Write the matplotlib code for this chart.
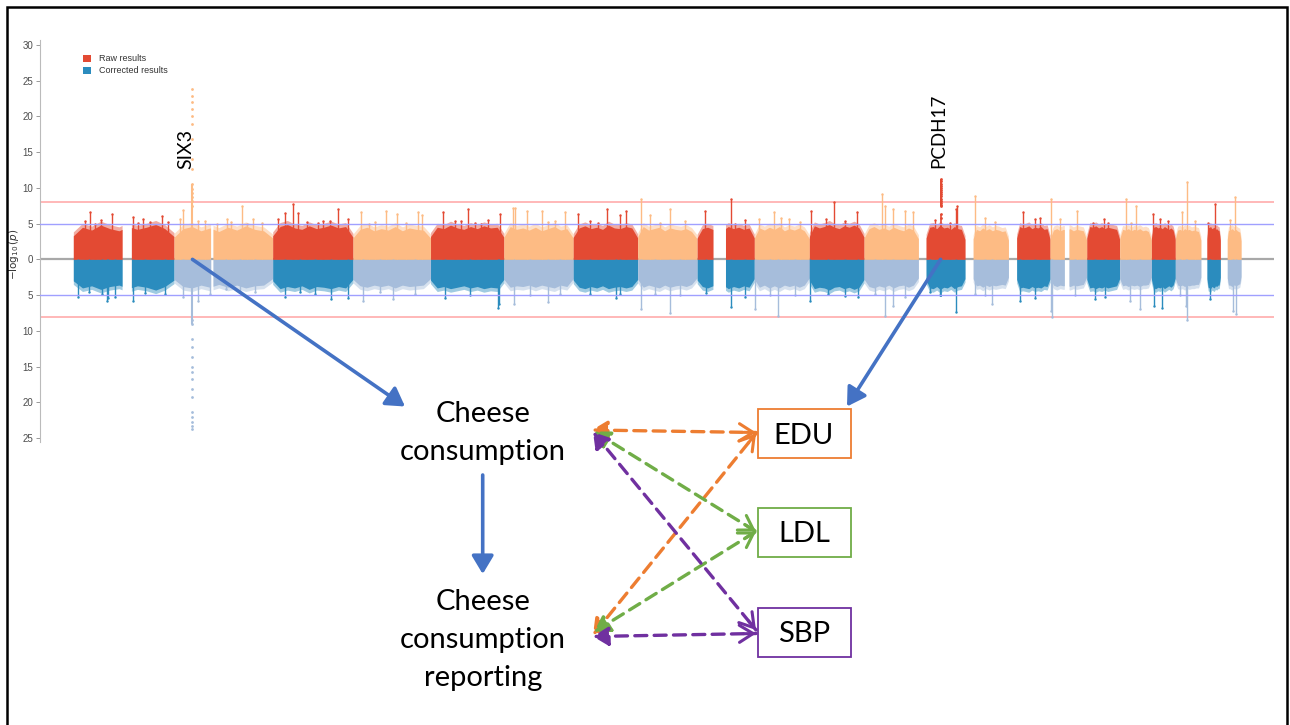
import numpy as np
import matplotlib
matplotlib.use("Agg")
import matplotlib.pyplot as plt
from matplotlib.patches import FancyArrowPatch, Rectangle

# ---------------- data ----------------
CHR_LEN = [249.25, 243.2, 198.0, 191.15, 180.9, 171.1, 159.1, 146.4, 141.2, 135.5, 135.0,
           133.9, 115.2, 107.3, 102.5, 90.35, 81.2, 78.1, 59.1, 63.0, 48.1, 51.3]
# genomic ranges (Mb) covered by SNPs on each chromosome
CHR_SEGS = [[(0.8, 121), (144, 249)], [(0.1, 90), (96, 243)], [(0.1, 198)], [(0.1, 191)],
            [(0.1, 181)], [(0.2, 171)], [(0.1, 159)], [(0.2, 146)], [(0.2, 39), (70, 141)],
            [(0.1, 135.5)], [(0.2, 135)], [(0.2, 134)], [(19.1, 115)], [(20, 107)],
            [(20, 102.5)], [(0.1, 35), (46.5, 90)], [(0.1, 81)], [(0.1, 78)], [(0.2, 59)],
            [(0.1, 63)], [(15, 48)], [(17, 51)]]
# top of the dense cloud of points, sampled across each chromosome
RAW_ENV = [
    [3.3, 4.5, 4.1, 4.8, 4.3, 4.0, 4.6, 4.2, 4.5, 4.9, 4.3, 3.2],
    [3.1, 4.3, 4.6, 4.0, 4.4, 3.9, 4.5, 4.1, 4.7, 4.2, 4.0, 3.0],
    [3.3, 4.6, 4.9, 4.4, 4.2, 4.7, 4.3, 4.5, 4.8, 4.4, 4.6, 3.1],
    [3.0, 4.2, 4.5, 4.0, 4.3, 4.1, 4.6, 4.0, 4.4, 4.2, 4.1, 3.0],
    [3.2, 4.5, 4.3, 4.8, 4.4, 4.2, 4.6, 4.3, 4.7, 4.4, 4.5, 3.1],
    [3.1, 4.6, 4.2, 4.4, 4.1, 4.5, 4.0, 4.3, 4.6, 4.1, 4.3, 3.0],
    [3.1, 4.4, 4.7, 4.3, 4.5, 4.2, 4.8, 4.4, 4.3, 4.6, 4.4, 3.0],
    [3.2, 4.6, 4.1, 4.3, 4.5, 4.0, 4.4, 4.2, 4.1, 4.3, 3.9, 2.9],
    [3.0, 4.3, 4.5, 4.2, 4.4, 4.1, 4.6, 4.3, 4.5, 4.2, 4.4, 3.0],
    [3.0, 4.4, 4.1, 4.5, 4.2, 4.6, 4.0, 4.3, 4.1, 4.4, 4.0, 2.9],
    [3.2, 4.7, 4.4, 4.6, 4.9, 4.5, 4.3, 4.7, 4.5, 4.8, 4.4, 3.1],
    [3.0, 4.3, 4.6, 4.2, 4.4, 4.1, 4.5, 4.2, 4.0, 4.4, 4.1, 2.9],
    [3.0, 4.5, 4.6, 4.3, 4.8, 4.4, 4.5, 4.2, 4.6, 4.3, 4.2, 2.8],
    [2.9, 4.2, 4.0, 4.4, 4.1, 4.3, 4.0, 4.2, 4.1, 3.9, 4.0, 2.7],
    [3.0, 4.6, 4.4, 4.5, 4.7, 4.3, 4.5, 4.4, 4.6, 4.2, 4.3, 2.8],
    [2.9, 4.1, 4.3, 4.0, 4.2, 4.1, 4.3, 4.0, 4.2, 4.1, 4.0, 2.7],
    [3.0, 4.6, 4.5, 4.7, 4.4, 4.6, 4.3, 4.5, 4.4, 4.3, 4.2, 2.8],
    [2.9, 4.2, 4.1, 4.3, 4.0, 4.2, 4.1, 4.3, 4.0, 4.1, 3.9, 2.7],
    [3.0, 4.5, 4.6, 4.4, 4.5, 4.3, 4.6, 4.4, 4.2, 4.4, 4.1, 2.8],
    [2.9, 4.1, 4.2, 4.0, 4.3, 4.1, 4.2, 4.0, 4.1, 4.0, 3.9, 2.7],
    [2.9, 4.4, 4.5, 4.6, 4.3, 4.4, 4.5, 4.2, 4.3, 4.1, 4.0, 2.7],
    [2.8, 4.1, 4.0, 4.2, 4.3, 4.1, 4.0, 4.2, 4.0, 3.9, 3.8, 2.6]]
CORR_ENV = [
    [3.0, 4.0, 3.7, 4.2, 3.8, 3.6, 4.1, 3.7, 3.9, 4.3, 3.8, 2.9],
    [2.8, 3.8, 4.0, 3.6, 3.9, 3.5, 3.9, 3.6, 4.0, 3.7, 3.6, 2.7],
    [3.0, 4.1, 3.8, 4.0, 3.7, 4.2, 3.8, 3.9, 4.1, 3.8, 4.0, 2.8],
    [2.8, 3.7, 3.9, 3.6, 3.8, 3.6, 4.0, 3.6, 3.8, 3.7, 3.6, 2.7],
    [2.9, 4.0, 3.8, 4.1, 3.9, 3.7, 4.0, 3.8, 4.1, 3.9, 4.0, 2.8],
    [2.8, 3.9, 3.7, 3.8, 3.6, 3.9, 3.6, 3.8, 4.0, 3.6, 3.8, 2.7],
    [2.9, 3.9, 4.1, 3.8, 4.0, 3.7, 4.1, 3.9, 3.8, 4.0, 3.8, 2.8],
    [2.8, 3.9, 3.6, 3.8, 4.0, 3.6, 3.9, 3.7, 3.6, 3.8, 3.5, 2.6],
    [2.9, 3.8, 4.0, 3.7, 3.9, 3.6, 4.1, 3.8, 4.0, 3.7, 3.9, 2.7],
    [2.8, 3.9, 3.6, 4.0, 3.7, 4.0, 3.6, 3.8, 3.6, 3.9, 3.6, 2.6],
    [2.9, 4.1, 3.9, 4.0, 4.3, 3.9, 3.8, 4.1, 3.9, 4.2, 3.9, 2.8],
    [2.8, 3.8, 4.0, 3.7, 3.9, 3.6, 4.0, 3.7, 3.6, 3.9, 3.6, 2.6],
    [2.9, 4.0, 4.1, 3.8, 4.2, 3.9, 4.0, 3.7, 4.1, 3.8, 3.7, 2.7],
    [2.7, 3.7, 3.6, 3.9, 3.6, 3.8, 3.6, 3.7, 3.6, 3.5, 3.6, 2.5],
    [2.8, 4.0, 3.9, 4.0, 4.1, 3.8, 4.0, 3.9, 4.0, 3.7, 3.8, 2.7],
    [2.7, 3.6, 3.8, 3.6, 3.7, 3.6, 3.8, 3.6, 3.7, 3.6, 3.5, 2.5],
    [2.8, 4.0, 3.9, 4.1, 3.9, 4.0, 3.8, 4.0, 3.9, 3.8, 3.7, 2.7],
    [2.7, 3.7, 3.6, 3.8, 3.6, 3.7, 3.6, 3.8, 3.6, 3.6, 3.5, 2.5],
    [2.8, 4.0, 4.1, 3.9, 4.0, 3.8, 4.1, 3.9, 3.7, 3.9, 3.6, 2.6],
    [2.7, 3.6, 3.7, 3.6, 3.8, 3.6, 3.7, 3.6, 3.6, 3.5, 3.5, 2.5],
    [2.7, 3.9, 4.0, 4.1, 3.8, 3.9, 4.0, 3.7, 3.8, 3.6, 3.6, 2.5],
    [2.6, 3.6, 3.6, 3.7, 3.8, 3.6, 3.6, 3.7, 3.6, 3.5, 3.4, 2.4]]
# isolated peaks: (chromosome, position Mb, -log10 p)
RAW_PEAKS = [
    (1, 29.6, 5.4), (1, 42, 6.6), (1, 69, 5.5), (1, 95.4, 6.4), (1, 148, 5.9), (1, 172.6, 5.6),
    (1, 190, 5.2), (1, 218.7, 6.0), (1, 55, 5.0), (1, 160, 5.1), (1, 235, 5.2),
    (2, 14.6, 5.6), (2, 22.9, 6.9), (2, 76, 5.3), (2, 104.8, 5.0), (2, 129.5, 5.6), (2, 166.5, 7.5),
    (2, 194.6, 5.6), (2, 216, 5.1), (2, 60, 5.4), (2, 140, 5.2), (2, 180, 5.0),
    (3, 13, 5.6), (3, 30.3, 6.5), (3, 50.1, 7.7), (3, 62.4, 6.5), (3, 111, 5.1), (3, 141, 5.3),
    (3, 161, 7.0), (3, 185, 5.6), (3, 85, 5.2), (3, 125, 5.4),
    (4, 19.7, 6.6), (4, 54, 5.2), (4, 81.4, 6.8), (4, 107.8, 6.4), (4, 159.6, 6.6), (4, 170, 6.2),
    (4, 130, 5.1), (4, 40, 5.0),
    (5, 30.8, 6.6), (5, 60, 5.3), (5, 92.5, 7.0), (5, 110, 5.1), (5, 141, 5.5), (5, 171.4, 6.3),
    (5, 125, 5.0), (5, 75, 5.4),
    (6, 21.5, 7.2), (6, 27.6, 7.2), (6, 57, 6.8), (6, 94, 6.8), (6, 126, 5.4), (6, 151, 6.6),
    (6, 110, 5.2),
    (7, 11, 6.3), (7, 41, 5.3), (7, 83.4, 7.0), (7, 115, 6.2), (7, 130, 6.8), (7, 60, 5.1),
    (8, 7, 8.4), (8, 30, 6.2), (8, 79.6, 7.0), (8, 116, 5.3), (8, 55, 5.1),
    (9, 19.5, 6.8), (9, 83.6, 8.4), (9, 93, 4.9), (9, 118, 5.5),
    (10, 10.4, 5.6), (10, 49.3, 6.6), (10, 66, 5.8), (10, 85, 5.6), (10, 112, 5.2),
    (11, 3.5, 6.8), (11, 41, 5.6), (11, 60, 8.0), (11, 88, 5.3), (11, 116.5, 6.6),
    (12, 44, 9.1), (12, 51, 7.5), (12, 71, 7.0), (12, 101, 6.8), (12, 120, 6.6),
    (13, 41, 5.5), (13, 78, 5.1), (13, 92.7, 7.0), (13, 95, 7.4),
    (14, 24.4, 8.8), (14, 49, 5.8), (14, 74, 5.2),
    (15, 35.5, 6.6), (15, 65, 5.6), (15, 77, 5.8),
    (16, 2.2, 8.4), (16, 24, 5.6), (16, 65.6, 6.8),
    (17, 15, 5.1), (17, 42, 5.6), (17, 52, 5.1),
    (18, 15.5, 8.4), (18, 28, 5.1), (18, 40, 7.5),
    (19, 4, 6.3), (19, 21, 5.6), (19, 41, 5.3),
    (20, 16.5, 6.6), (20, 29, 10.8), (20, 48, 5.3),
    (21, 17.5, 5.1), (21, 34.8, 7.7),
    (22, 23.7, 5.5), (22, 36, 8.7)]
CORR_PEAKS = [
    (1, 12, 5.2), (1, 70.8, 4.9), (1, 83, 5.8), (1, 87, 5.4), (1, 103.6, 5.2), (1, 148, 5.8),
    (1, 177.6, 4.7), (1, 227, 4.9), (1, 40, 4.6),
    (2, 22, 5.2), (2, 59, 5.8), (2, 88.5, 4.9), (2, 128, 4.2), (2, 162, 4.6), (2, 200, 4.5),
    (3, 30, 5.2), (3, 67, 4.5), (3, 104, 4.9), (3, 145, 5.6), (3, 185, 5.4),
    (4, 24.7, 5.8), (4, 66.6, 4.6), (4, 98.6, 5.6), (4, 153, 4.8),
    (5, 35.8, 5.4), (5, 97.4, 5.0), (5, 165.7, 6.8), (5, 169, 6.2),
    (6, 26, 6.3), (6, 64.6, 5.0), (6, 109, 5.9), (6, 139, 4.8),
    (7, 41.4, 4.8), (7, 104.6, 5.4), (7, 115.4, 4.9),
    (8, 8, 7.0), (8, 42.7, 4.8), (8, 79.6, 7.5), (8, 104, 5.0),
    (9, 22, 4.7), (9, 83.6, 6.7), (9, 118, 5.2),
    (10, 0.5, 7.0), (10, 38.5, 5.0), (10, 58, 7.9), (10, 100, 5.0),
    (11, 1.7, 5.8), (11, 46, 4.9), (11, 88, 5.1), (11, 120, 5.3),
    (12, 26.6, 4.8), (12, 51.3, 7.9), (12, 71, 6.5), (12, 101, 5.2),
    (13, 28.6, 4.6), (13, 53, 5.0), (13, 92.7, 7.4),
    (14, 24.4, 4.8), (14, 49, 5.0), (14, 66.3, 6.3),
    (15, 28, 5.8), (15, 65, 5.4),
    (16, 2.2, 7.2), (16, 3.5, 8.0), (16, 61, 5.0),
    (17, 20, 5.6), (17, 45, 5.2),
    (18, 25.6, 5.8), (18, 50.3, 7.0),
    (19, 6.4, 6.5), (19, 26, 6.8),
    (20, 11.6, 5.0), (20, 26.4, 6.5), (20, 29, 8.5),
    (21, 22.4, 5.6),
    (22, 31.6, 7.2), (22, 39, 7.6)]
# top hits
SIX3_CHR, SIX3_POS = 2, 45.3
SIX3_RAW = [23.8, 22.8, 22.0, 21.0, 20.0, 18.9, 16.8, 14.0, 12.6, 10.5, 9.9, 9.3, 8.7, 8.1, 7.5]
SIX3_CORR = [23.8, 23.3, 22.8, 22.1, 21.4, 19.3, 18.2, 16.8, 15.8, 15.1, 13.7, 12.2, 11.2, 9.1, 8.5]
PCDH17_CHR, PCDH17_POS = 13, 55.0
PCDH17_RAW = [11.2, 10.9, 10.6, 10.3, 10.0, 9.7, 9.4, 9.1, 8.8, 8.5, 8.2, 7.9, 7.6, 7.4, 6.3, 5.8]
PCDH17_CORR = [5.2, 4.8]

YTICKS = [-25, -20, -15, -10, -5, 0, 5, 10, 15, 20, 25, 30]
LEGEND_LABELS = ["Raw results", "Corrected results"]

RAW_COLS = ["#E34A33", "#FDBB84"]
CORR_COLS = ["#2B8CBE", "#A6BDDB"]

# ---------------- figure ----------------
W, H = 1290, 725
fig = plt.figure(figsize=(12.9, 7.25), dpi=100)
fig.patch.set_facecolor("white")


def fx(px):
    return px / W


def fy(py):
    return 1 - py / H


ax = fig.add_axes([fx(40), fy(442.3), (1274 - 40) / W, (442.3 - 40) / H])
ax.set_ylim(-25.6, 30.7)
ax.set_xlim(-81.4, 2961.8)
offs = np.concatenate([[0], np.cumsum(CHR_LEN)[:-1]])

for i in range(22):
    segs = CHR_SEGS[i]
    a0, b0 = segs[0][0], segs[-1][1]
    renv, cenv = RAW_ENV[i], CORR_ENV[i]
    samp = np.linspace(a0, b0, len(renv))
    for (a, b) in segs:
        xs = np.linspace(a, b, 120)
        yr = np.interp(xs, samp, renv)
        yc = np.interp(xs, samp, cenv)
        # sparse fringe of points above the dense cloud
        ax.fill_between(offs[i] + xs, 0, yr + 0.55, color=RAW_COLS[i % 2], lw=0, alpha=0.45,
                        zorder=2)
        ax.fill_between(offs[i] + xs, 0, -(yc + 0.5), color=CORR_COLS[i % 2], lw=0, alpha=0.45,
                        zorder=2)
        ax.fill_between(offs[i] + xs, 0, yr, color=RAW_COLS[i % 2], lw=0, zorder=2)
        ax.fill_between(offs[i] + xs, 0, -yc, color=CORR_COLS[i % 2], lw=0, zorder=2)

for (c, p, v) in RAW_PEAKS:
    x = offs[c - 1] + p
    col = RAW_COLS[(c - 1) % 2]
    ax.vlines(x, 0, v, color=col, lw=1.0, zorder=3)
    ax.scatter([x], [v], s=3, color=col, lw=0, zorder=3)
for (c, p, v) in CORR_PEAKS:
    x = offs[c - 1] + p
    col = CORR_COLS[(c - 1) % 2]
    ax.vlines(x, 0, -v, color=col, lw=1.0, zorder=3)
    ax.scatter([x], [-v], s=3, color=col, lw=0, zorder=3)

# SIX3 column
xs6 = offs[SIX3_CHR - 1] + SIX3_POS
ax.vlines(xs6, 0, 10.5, color=RAW_COLS[1], lw=1.5, zorder=3)
ax.scatter([xs6] * len(SIX3_RAW), SIX3_RAW, s=4, color=RAW_COLS[1], lw=0, zorder=3)
ax.vlines(xs6, 0, -9.1, color=CORR_COLS[1], lw=1.5, zorder=3)
ax.scatter([xs6] * len(SIX3_CORR), [-v for v in SIX3_CORR], s=4, color=CORR_COLS[1], lw=0,
           zorder=3)
# PCDH17 column
xp = offs[PCDH17_CHR - 1] + PCDH17_POS
ax.vlines(xp, 7.4, max(PCDH17_RAW), color=RAW_COLS[0], lw=1.4, zorder=3)
ax.vlines(xp, 0, 6.3, color=RAW_COLS[0], lw=1.2, zorder=3)
ax.scatter([xp] * len(PCDH17_RAW), PCDH17_RAW, s=4, color=RAW_COLS[0], lw=0, zorder=3)
ax.vlines(xp, 0, -max(PCDH17_CORR), color=CORR_COLS[0], lw=1.2, zorder=3)

# threshold lines
for v in (8, -8):
    ax.axhline(v, color="#FFB8B8", lw=1.4, zorder=1)
for v in (5, -5):
    ax.axhline(v, color="#A0A0FF", lw=1.0, zorder=4)
ax.axhline(0, color="#A8A8A8", lw=1.6, zorder=1)

ax.set_yticks(YTICKS)
ax.set_yticklabels([str(abs(t)) for t in YTICKS], fontsize=7, color="#4d4d4d",
                   fontfamily="Liberation Sans")
ax.tick_params(axis="y", length=3, width=0.7, color="#999999", pad=2)
ax.set_xticks([])
for s in ("top", "right", "bottom"):
    ax.spines[s].set_visible(False)
ax.spines["left"].set_color("#BBBBBB")
ax.spines["left"].set_linewidth(0.8)
ax.patch.set_alpha(0)

# ---------------- overlay in pixel coordinates ----------------
ov = fig.add_axes([0, 0, 1, 1], zorder=5)
ov.set_xlim(0, W)
ov.set_ylim(H, 0)
ov.axis("off")
ov.patch.set_alpha(0)

# frame
ov.plot([7, 7, 1287, 1287], [730, 7, 7, 730], color="black", lw=1.8,
        solid_joinstyle="miter", zorder=10)

# y label
fig.text(fx(14), fy(254), r"$-\log_{10}(p)$", rotation=90, fontsize=7.5, color="#333333",
         ha="center", va="center")

# legend
for k, (lab, col) in enumerate(zip(LEGEND_LABELS, [RAW_COLS[0], CORR_COLS[0]])):
    yy = 58 + 12 * k
    ov.add_patch(Rectangle((83, yy - 3.5), 7.5, 7, color=col, lw=0))
    ov.text(99, yy, lab, fontsize=6.5, color="#333333", va="center",
            fontfamily="Liberation Sans")

# gene labels
DIA = "Lato"
ov.text(186, 149, "SIX3", rotation=90, fontsize=14, ha="center", va="center", fontfamily=DIA)
ov.text(938.5, 131, "PCDH17", rotation=90, fontsize=13.5, ha="center", va="center",
        fontfamily=DIA)


def to_px(x, y):
    dx, dy = ax.transData.transform((x, y))
    return dx, H - dy


BLUE = "#4472C4"
a1 = to_px(xs6, 0)
a2 = to_px(xp, 0)
for (sx, sy), (tx, ty) in [(a1, (405, 406.5)), (a2, (847, 406.5)), ((482.7, 475), (482.7, 574))]:
    ov.add_patch(FancyArrowPatch((sx, sy), (tx, ty),
                                 arrowstyle="-|>,head_length=0.5,head_width=0.3",
                                 mutation_scale=22, color=BLUE, lw=2.6, shrinkA=0, shrinkB=0,
                                 zorder=6))

# texts of diagram
TXT = 21
ov.text(482.7, 422, "Cheese", fontsize=TXT, ha="center", va="baseline", fontfamily=DIA)
ov.text(482.7, 460, "consumption", fontsize=TXT, ha="center", va="baseline", fontfamily=DIA)
ov.text(482.7, 610, "Cheese", fontsize=TXT, ha="center", va="baseline", fontfamily=DIA)
ov.text(482.7, 648, "consumption", fontsize=TXT, ha="center", va="baseline", fontfamily=DIA)
ov.text(482.7, 686, "reporting", fontsize=TXT, ha="center", va="baseline", fontfamily=DIA)

BOXES = [("EDU", 409, "#ED7D31"), ("LDL", 508, "#70AD47"), ("SBP", 608, "#7030A0")]
for lab, top, col in BOXES:
    ov.add_patch(Rectangle((757.5, top), 93, 48.5, fill=False, ec=col, lw=1.3, zorder=6))
    ov.text(804, top + 34.5, lab, fontsize=TXT, ha="center", va="baseline", fontfamily=DIA)

ORANGE, GREEN, PURPLE = "#ED7D31", "#70AD47", "#7030A0"
LINKS = [((592, 430), (756, 432.5), ORANGE), ((593, 635), (756, 433.5), ORANGE),
         ((594, 431.5), (756, 531.5), GREEN), ((594, 632), (756, 531.5), GREEN),
         ((593, 432), (756, 630), PURPLE), ((593, 636.5), (756, 633.5), PURPLE)]
for (p, q, col) in LINKS:
    ov.add_patch(FancyArrowPatch(p, q, arrowstyle="<|-,head_length=0.42,head_width=0.26",
                                 mutation_scale=22, color=col, lw=2.4,
                                 linestyle=(0, (3.6, 2.2)), shrinkA=0, shrinkB=0, zorder=7))
    d = np.array(q) - np.array(p)
    d = d / np.hypot(*d)
    st = np.array(q) - d * 12
    ov.add_patch(FancyArrowPatch(tuple(st), q, arrowstyle="->,head_length=0.45,head_width=0.28",
                                 mutation_scale=22, color=col, lw=2.2, shrinkA=0, shrinkB=0,
                                 zorder=7))

fig.savefig("out.png", dpi=100, facecolor="white")
